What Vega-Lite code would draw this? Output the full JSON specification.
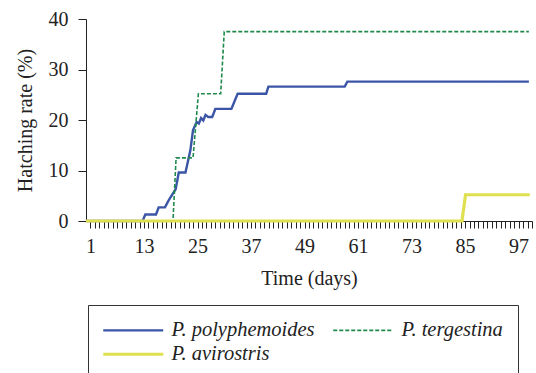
{
  "$schema": "https://vega.github.io/schema/vega-lite/v6.json",
  "width": 446,
  "height": 202,
  "autosize": {"type": "none"},
  "padding": {"left": 86, "top": 19, "right": 4, "bottom": 152},
  "background": "white",
  "config": {
    "view": {"stroke": null},
    "font": "Liberation Serif",
    "axis": {
      "labelFont": "Liberation Serif",
      "titleFont": "Liberation Serif",
      "labelFontSize": 20,
      "titleFontSize": 20,
      "titleFontWeight": "normal",
      "labelColor": "#222",
      "titleColor": "#222",
      "domainColor": "#222",
      "tickColor": "#222",
      "grid": false
    }
  },
  "data": {
    "values": [
      {"species": "P. polyphemoides", "day": 0, "rate": 0},
      {"species": "P. polyphemoides", "day": 12.7, "rate": 0},
      {"species": "P. polyphemoides", "day": 13.3, "rate": 1.3},
      {"species": "P. polyphemoides", "day": 15.7, "rate": 1.3},
      {"species": "P. polyphemoides", "day": 16.3, "rate": 2.7},
      {"species": "P. polyphemoides", "day": 17.7, "rate": 2.7},
      {"species": "P. polyphemoides", "day": 18.6, "rate": 4.2},
      {"species": "P. polyphemoides", "day": 19.4, "rate": 5.3},
      {"species": "P. polyphemoides", "day": 20.1, "rate": 6.3},
      {"species": "P. polyphemoides", "day": 20.8, "rate": 9.6},
      {"species": "P. polyphemoides", "day": 22.3, "rate": 9.6},
      {"species": "P. polyphemoides", "day": 23.4, "rate": 14},
      {"species": "P. polyphemoides", "day": 24.0, "rate": 18},
      {"species": "P. polyphemoides", "day": 24.8, "rate": 19.6},
      {"species": "P. polyphemoides", "day": 25.3, "rate": 19.3},
      {"species": "P. polyphemoides", "day": 25.8, "rate": 20.4},
      {"species": "P. polyphemoides", "day": 26.3, "rate": 19.9},
      {"species": "P. polyphemoides", "day": 26.8, "rate": 21},
      {"species": "P. polyphemoides", "day": 27.4, "rate": 20.6},
      {"species": "P. polyphemoides", "day": 28.3, "rate": 20.6},
      {"species": "P. polyphemoides", "day": 29.0, "rate": 22.2},
      {"species": "P. polyphemoides", "day": 32.6, "rate": 22.2},
      {"species": "P. polyphemoides", "day": 34.0, "rate": 25.2},
      {"species": "P. polyphemoides", "day": 40.4, "rate": 25.2},
      {"species": "P. polyphemoides", "day": 40.9, "rate": 26.6},
      {"species": "P. polyphemoides", "day": 58.0, "rate": 26.6},
      {"species": "P. polyphemoides", "day": 58.6, "rate": 27.6},
      {"species": "P. polyphemoides", "day": 99.3, "rate": 27.6},
      {"species": "P. tergestina", "day": 0, "rate": 0},
      {"species": "P. tergestina", "day": 19.5, "rate": 0},
      {"species": "P. tergestina", "day": 20.2, "rate": 12.5},
      {"species": "P. tergestina", "day": 24.0, "rate": 12.5},
      {"species": "P. tergestina", "day": 25.2, "rate": 25.2},
      {"species": "P. tergestina", "day": 30.2, "rate": 25.2},
      {"species": "P. tergestina", "day": 31.0, "rate": 37.5},
      {"species": "P. tergestina", "day": 99.3, "rate": 37.5},
      {"species": "P. avirostris", "day": 0, "rate": 0},
      {"species": "P. avirostris", "day": 84.3, "rate": 0},
      {"species": "P. avirostris", "day": 85.1, "rate": 5.2},
      {"species": "P. avirostris", "day": 99.5, "rate": 5.2}
    ]
  },
  "mark": {"type": "line", "interpolate": "linear"},
  "encoding": {
    "x": {
      "field": "day",
      "type": "quantitative",
      "scale": {"domain": [0, 100], "nice": false, "zero": false},
      "axis": {
        "title": "Time (days)",
        "values": [1,2,3,4,5,6,7,8,9,10,11,12,13,14,15,16,17,18,19,20,21,22,23,24,25,26,27,28,29,30,31,32,33,34,35,36,37,38,39,40,41,42,43,44,45,46,47,48,49,50,51,52,53,54,55,56,57,58,59,60,61,62,63,64,65,66,67,68,69,70,71,72,73,74,75,76,77,78,79,80,81,82,83,84,85,86,87,88,89,90,91,92,93,94,95,96,97,98,99,100],
        "labelExpr": "datum.value % 12 == 1 ? datum.label : ''",
        "labelOverlap": false,
        "labelFlush": false,
        "labelBound": false,
        "tickSize": 7,
        "labelPadding": 8,
        "titlePadding": 12
      }
    },
    "y": {
      "field": "rate",
      "type": "quantitative",
      "scale": {"domain": [0, 40], "nice": false},
      "axis": {
        "title": "Hatching rate (%)",
        "values": [0, 10, 20, 30, 40],
        "tickSize": 8,
        "labelPadding": 10,
        "titlePadding": 13
      }
    },
    "color": {
      "field": "species",
      "type": "nominal",
      "sort": null,
      "scale": {
        "domain": ["P. polyphemoides", "P. tergestina", "P. avirostris"],
        "range": ["#3a55a6", "#1f8a4c", "#dfe04f"]
      },
      "legend": {
        "title": null,
        "orient": "none",
        "legendX": 2,
        "legendY": 286,
        "columns": 2,
        "direction": "horizontal",
        "symbolType": "M-1,0H5",
        "symbolSize": 400,
        "padding": 15,
        "strokeColor": "#333",
        "labelFont": "Liberation Serif",
        "labelFontSize": 20.5,
        "labelFontStyle": "italic",
        "labelColor": "#222",
        "labelOffset": 48,
        "labelLimit": 300,
        "columnPadding": 15,
        "rowPadding": 3,
        "encode": {
          "symbols": {
            "update": {
              "strokeWidth": {"signal": "datum.value === 'P. avirostris' ? 3.2 : datum.value === 'P. tergestina' ? 1.6 : 2.4"}
            }
          }
        }
      }
    },
    "strokeDash": {
      "field": "species",
      "type": "nominal",
      "scale": {
        "domain": ["P. polyphemoides", "P. tergestina", "P. avirostris"],
        "range": [[1, 0], [4, 2], [1, 0]]
      },
      "legend": {"title": null}
    },
    "strokeWidth": {
      "condition": [
        {"test": "datum.species === 'P. avirostris'", "value": 3.2},
        {"test": "datum.species === 'P. tergestina'", "value": 1.6}
      ],
      "value": 2.4
    }
  }
}
